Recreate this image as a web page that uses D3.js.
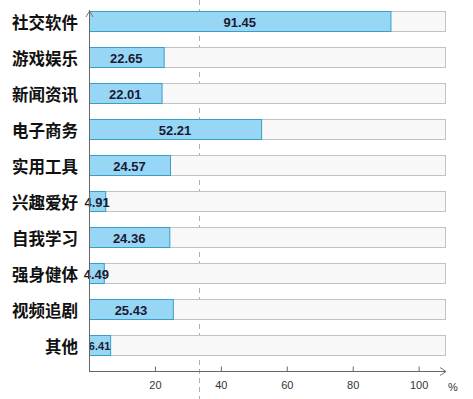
<!DOCTYPE html>
<html><head><meta charset="utf-8">
<script src="https://cdn.jsdelivr.net/npm/d3@7"></script>
<style>body{margin:0;background:#fff}svg{display:block}</style>
</head><body>
<svg id="c" width="473" height="399"></svg>
<script>
const categories = ["社交软件","游戏娱乐","新闻资讯","电子商务","实用工具","兴趣爱好","自我学习","强身健体","视频追剧","其他"];
const values = [91.45,22.65,22.01,52.21,24.57,4.91,24.36,4.49,25.43,6.41];
const tickValues = [20,40,60,80,100];
const refValue = [33.3];
const unitLabel = "%";

const svg = d3.select("#c");
const x = d3.scaleLinear().domain([0,108]).range([89,445]);
const y = d3.scaleBand().domain(categories).range([3,363]).paddingInner(0.444).paddingOuter(0.222);
const axisY = 371;

svg.selectAll(".ref").data(refValue).join("line")
  .attr("x1", d=>Math.round(x(d))+0.5).attr("x2", d=>Math.round(x(d))+0.5)
  .attr("y1",0).attr("y2",399)
  .attr("stroke","#b0b0b0").attr("stroke-dasharray","5,4");

svg.selectAll(".track").data(categories).join("rect")
  .attr("x", x(0)+0.5).attr("y", d=>y(d)+0.5)
  .attr("width", x(108)-x(0)).attr("height", y.bandwidth())
  .attr("fill","#f8f8f8").attr("stroke","#c3c3c3");

svg.selectAll(".bar").data(values).join("rect")
  .attr("x", x(0)+0.5).attr("y", (d,i)=>y(categories[i])+0.5)
  .attr("width", d=>x(d)-x(0)).attr("height", y.bandwidth())
  .attr("fill","#98d6f6").attr("stroke","#3a9fc4");

svg.selectAll(".val").data(values).join("text")
  .attr("x", d=>x(d/2)).attr("y", (d,i)=>y(categories[i])+y.bandwidth()/2+1)
  .attr("text-anchor","middle").attr("dominant-baseline","central")
  .attr("font-family","Liberation Sans, Arial, sans-serif").attr("font-weight","bold")
  .attr("font-size", d => (x(d)-x(0)) < 22 && d > 6 ? 11 : 13).attr("fill","#1a1a33")
  .text(d=>d.toFixed(2));

svg.selectAll(".cat").data(categories).join("text")
  .attr("x", 78).attr("y", d=>y(d)+y.bandwidth()/2+1)
  .attr("text-anchor","end").attr("dominant-baseline","central")
  .attr("font-family","Noto Sans CJK SC, sans-serif").attr("font-weight","bold")
  .attr("font-size", 16.5).attr("fill","#111")
  .text(d=>d);

const xAxis = d3.axisBottom(x).tickValues(tickValues).tickSize(-5).tickPadding(10).tickFormat(d3.format("d"));
const gx = svg.append("g").attr("transform",`translate(0,${axisY+0.5})`).call(xAxis);
gx.select(".domain").remove();
gx.selectAll(".tick line").attr("stroke","#666");
gx.selectAll(".tick text").attr("font-family","Liberation Sans, Arial, sans-serif").attr("font-size",11).attr("fill","#333");
svg.append("line").attr("x1",x(0)).attr("x2",446).attr("y1",axisY+0.5).attr("y2",axisY+0.5).attr("stroke","#666");
svg.append("path").attr("d",`M440,${axisY-3.5}L446,${axisY+0.5}L440,${axisY+4.5}`).attr("fill","none").attr("stroke","#777");

svg.append("line").attr("x1",x(0)+0.5).attr("x2",x(0)+0.5).attr("y1",10).attr("y2",axisY+0.5).attr("stroke","#666");
svg.append("path").attr("d",`M${x(0)-3},17L${x(0)+0.5},11L${x(0)+4},17`).attr("fill","none").attr("stroke","#777");

svg.append("text").attr("x",448).attr("y",391).attr("font-family","Liberation Sans, Arial, sans-serif")
  .attr("font-size",11).attr("fill","#333").text(unitLabel);
</script>
</body></html>
